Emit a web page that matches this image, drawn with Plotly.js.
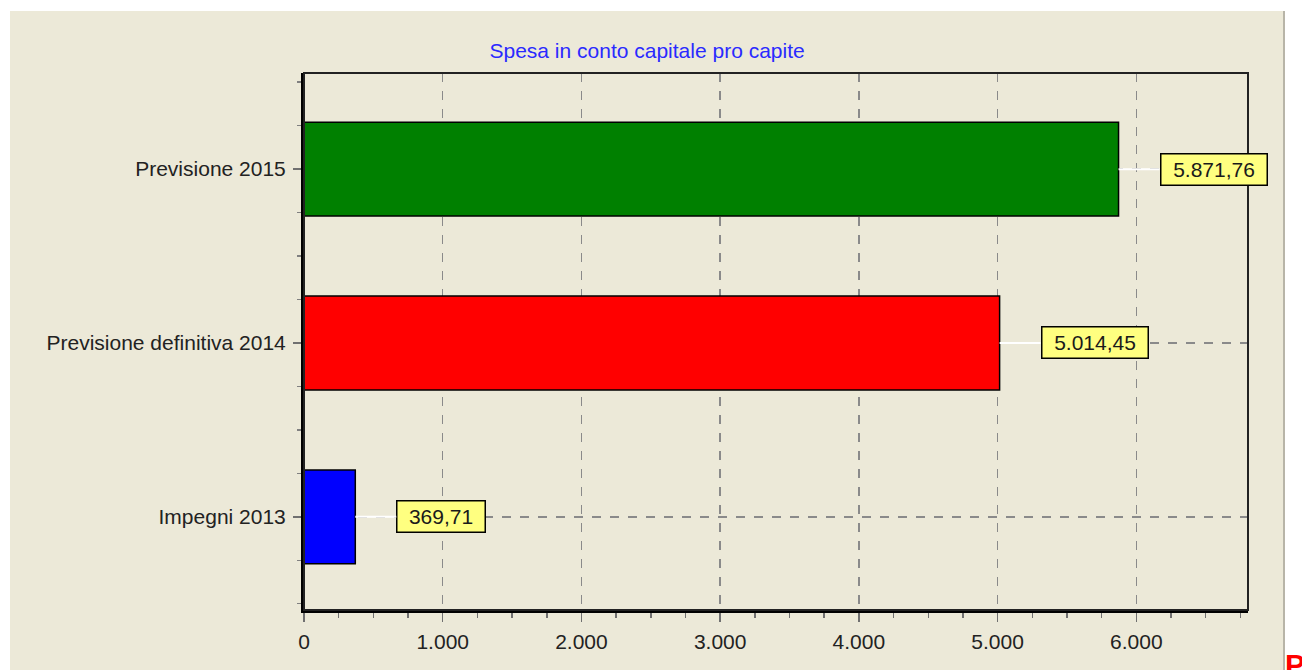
<!DOCTYPE html>
<html>
<head>
<meta charset="utf-8">
<script src="https://cdn.plot.ly/plotly-3.0.1.min.js"></script>
<style>
  html, body { margin: 0; padding: 0; background: #ffffff; }
  #chart { width: 1302px; height: 670px; }
</style>
</head>
<body>
<div id="chart"></div>
<script>
// ---- data ----
var categories = ["Impegni 2013", "Previsione definitiva 2014", "Previsione 2015"];
var values = [369.71, 5014.45, 5871.76];
var barColors = ["#0000ff", "#ff0000", "#008000"];
var xTickVals = [0, 1000, 2000, 3000, 4000, 5000, 6000];
var chartTitle = "Spesa in conto capitale pro capite";

// Italian number format: thousands '.', decimals ','
function fmtIt(v) {
  var parts = v.toFixed(2).split(".");
  var intPart = parts[0].replace(/\B(?=(\d{3})+(?!\d))/g, ".");
  return intPart + "," + parts[1];
}
function fmtInt(v) {
  return String(v).replace(/\B(?=(\d{3})+(?!\d))/g, ".");
}

var FONT = "Liberation Sans, Arial, sans-serif";
var canvas = document.createElement("canvas");
var ctx = canvas.getContext("2d");
ctx.font = "21px " + FONT;
function textW(t) { return ctx.measureText(t).width; }

var idx = categories.map(function (c, i) { return i; });

var trace = {
  type: "bar",
  orientation: "h",
  x: values,
  y: idx,
  width: 0.54,
  marker: { color: barColors, line: { color: "#000000", width: 1.5 } },
  hoverinfo: "none"
};

var annotations = values.map(function (v, i) {
  var t = fmtIt(v);
  return {
    x: v, y: i, xref: "x", yref: "y",
    text: t,
    showarrow: true, arrowhead: 0, arrowwidth: 2, arrowcolor: "#ffffff",
    ax: 41, ay: 0, axref: "pixel", ayref: "pixel",
    standoff: 0, startstandoff: 0,
    xanchor: "left", yanchor: "middle",
    width: Math.round(textW(t) + 21),
    height: 28,
    bgcolor: "#ffff80", bordercolor: "#000000", borderwidth: 1.5, borderpad: 1,
    font: { family: FONT, size: 21, color: "#1a1a1a" }
  };
});

annotations.push({
  xref: "paper", yref: "paper", x: 1.0, y: 0, xanchor: "left", yanchor: "top",
  xshift: 35, yshift: -36,
  text: "<b>P</b>", showarrow: false,
  font: { family: FONT, size: 30, color: "#ff0000" }
});

var layout = {
  width: 1302, height: 670,
  margin: { l: 304, r: 54, t: 73, b: 60, pad: 0 },
  paper_bgcolor: "#ffffff",
  plot_bgcolor: "#ece9d8",
  showlegend: false,
  separators: ",.",
  title: {
    text: chartTitle,
    font: { family: FONT, size: 21, color: "#2a2aff" },
    x: 0.497, xref: "container", xanchor: "center",
    y: 0.925, yref: "container", yanchor: "middle"
  },
  xaxis: {
    range: [0, 6805],
    tickvals: xTickVals,
    ticktext: xTickVals.map(fmtInt),
    ticks: "outside", ticklen: 9, tickwidth: 1.5, tickcolor: "#707070",
    showline: true, linecolor: "#000000", linewidth: 3,
    showgrid: true, gridcolor: "#8a8a8a", gridwidth: 1.5, griddash: "dash",
    zeroline: false,
    tickfont: { family: FONT, size: 21, color: "#222222" },
    ticklabelstandoff: 2,
    minor: { dtick: 250, tick0: 0, ticks: "outside", ticklen: 5, tickwidth: 1.5, tickcolor: "#707070", showgrid: false },
    fixedrange: true
  },
  yaxis: {
    range: [-0.536, 2.553],
    tickvals: idx,
    ticktext: categories,
    ticks: "outside", ticklen: 8, tickwidth: 1.5, tickcolor: "#707070",
    showline: true, linecolor: "#000000", linewidth: 3,
    showgrid: true, gridcolor: "#8a8a8a", gridwidth: 1.5, griddash: "dash",
    zeroline: false,
    tickfont: { family: FONT, size: 21, color: "#222222" },
    ticklabelstandoff: 3,
    minor: { dtick: 0.25, tick0: 0, ticks: "outside", ticklen: 4, tickwidth: 1.5, tickcolor: "#808080", showgrid: false },
    fixedrange: true
  },
  shapes: [
    // beige panel behind the chart
    { type: "rect", xref: "paper", yref: "paper", layer: "below",
      x0: -294 / 944, x1: 979 / 944, y0: -60 / 537, y1: 599 / 537,
      fillcolor: "#ece9d8", line: { width: 0 } },
    // panel right edge
    { type: "line", xref: "paper", yref: "paper", layer: "below",
      x0: 980 / 944, x1: 980 / 944, y0: -60 / 537, y1: 599 / 537,
      line: { color: "#b8b5a8", width: 2 } },
    // plot frame top/right
    { type: "rect", xref: "paper", yref: "paper", layer: "above",
      x0: 0, x1: 1, y0: 0, y1: 1,
      line: { color: "#222222", width: 2 } }
  ],
  annotations: annotations
};

Plotly.newPlot("chart", [trace], layout, { displayModeBar: false, staticPlot: true });
</script>
</body>
</html>
